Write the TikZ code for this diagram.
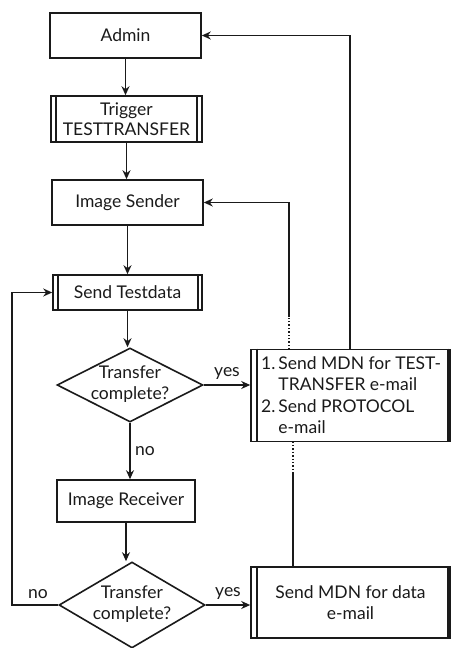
\documentclass[tikz,border=0pt]{standalone}
\usepackage{fontspec}
\setmainfont{Lato}
\usetikzlibrary{shapes.geometric,arrows.meta}
\definecolor{ink}{HTML}{1A1A1A}
\begin{document}
\begin{tikzpicture}[x=1pt,y=-1pt,
  every node/.style={text=ink,font=\fontsize{17.5}{20.5}\selectfont},
  box/.style={draw=ink,line width=1.6pt,rectangle,inner sep=0pt,align=center},
  dia/.style={draw=ink,line width=1.6pt,diamond,inner sep=0pt},
  line/.style={draw=ink,line width=1.6pt},
  arr/.style={line,-{Stealth[length=9pt,width=8pt]}},
  dots/.style={draw=ink,line width=1.4pt,dotted}]
\useasboundingbox (0,0) rectangle (451,648);

\node[box,minimum width=151pt,minimum height=45pt] (A) at (125.5,35.5) {Admin};
\node[box,minimum width=151pt,minimum height=46pt] (T) at (126.5,119) {Trigger\\TESTTRANSFER};
\draw[line] ([xshift=6pt]T.north west) -- ([xshift=6pt]T.south west);
\draw[line] ([xshift=-6pt]T.north east) -- ([xshift=-6pt]T.south east);
\node[box,minimum width=151pt,minimum height=45pt] (IS) at (127.5,202.5) {Image Sender};
\node[box,minimum width=149pt,minimum height=35pt] (ST) at (127.5,292.5) {Send Testdata};
\draw[line] ([xshift=6pt]ST.north west) -- ([xshift=6pt]ST.south west);
\draw[line] ([xshift=-5pt]ST.north east) -- ([xshift=-5pt]ST.south east);

\node[dia,minimum width=146pt,minimum height=74pt] (D1) at (130,385) {};
\node[align=center] (D1t) at (130,384) {Transfer\\complete?};
\node[box,minimum width=138pt,minimum height=42pt] (IR) at (126,501) {Image Receiver};
\node[dia,minimum width=146pt,minimum height=86pt] (D2) at (132,605) {};
\node[align=center] (D2t) at (132,604) {Transfer\\complete?};

\node[box,minimum width=199pt,minimum height=92pt] (B1) at (350.5,395.5) {};
\draw[line] ([xshift=7pt]B1.north west) -- ([xshift=7pt]B1.south west);
\draw[line] ([xshift=-3pt]B1.north east) -- ([xshift=-3pt]B1.south east);
\node[anchor=west,align=left,inner sep=0pt,font=\fontsize{17.5}{21.5}\selectfont] (B1t) at (261,397)
  {\begin{tabular}{@{}l@{\hspace{3pt}}l@{}}1. & Send MDN for TEST-\\ & TRANSFER e-mail\\ 2. & Send PROTOCOL\\ & e-mail\end{tabular}};
\node[box,minimum width=199pt,minimum height=71pt] (B2) at (350.5,602.5) {Send MDN for data\\e-mail};
\draw[line] ([xshift=7pt]B2.north west) -- ([xshift=7pt]B2.south west);
\draw[line] ([xshift=-3pt]B2.north east) -- ([xshift=-3pt]B2.south east);

% main flow
\draw[arr] (A.south) -- (A.south |- T.north);
\draw[arr] (T.south) -- (T.south |- IS.north);
\draw[arr] (IS.south) -- (IS.south |- ST.north);
\draw[arr] (ST.south) -- (ST.south |- D1.north);
\draw[arr] (D1.east) -- (D1.east -| B1.west) node[midway,above=1pt] (y1) {yes};
\draw[arr] (D1.south) -- (D1.south |- IR.north) node[midway,right=1pt] (n1) {no};
\draw[arr] (IR.south) -- (IR.south |- D2.north);
\draw[arr] (D2.east) -- (D2.east -| B2.west) node[midway,above=1pt] (y2) {yes};
\coordinate (L) at (12,605);
\draw[arr] (D2.west) -- (L) |- (ST.west);
\node (n2) at (38,594) {no};

% returns
\coordinate (R1) at (350,349.5);
\draw[arr] (R1) |- (A.east);
\coordinate (R2a) at (289,349.5);
\coordinate (R2b) at (289,317);
\draw[dots] (R2a) -- (R2b);
\draw[arr] (R2b) |- (IS.east);
\coordinate (R3a) at (293,441.5);
\coordinate (R3b) at (293,473);
\coordinate (R3c) at (293,567);
\draw[dots] (R3a) -- (R3b);
\draw[line] (R3b) -- (R3c);
\end{tikzpicture}
\end{document}
